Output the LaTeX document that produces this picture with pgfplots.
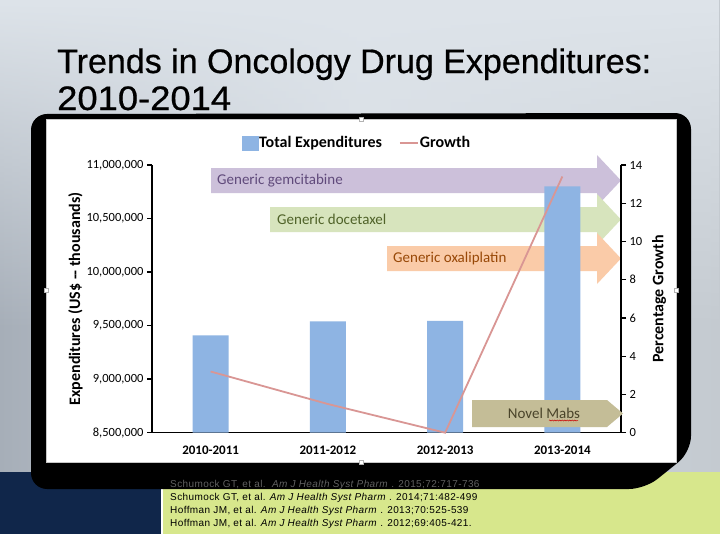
\documentclass[border=0pt]{standalone}
\usepackage{pgfplots}
\pgfplotsset{compat=1.18}
\usepackage{fontspec}
\setmainfont{Liberation Sans}
\newfontfamily\calibri{Carlito}
\newfontfamily\titlefont[FakeBold=0.6]{Liberation Sans}
\newfontfamily\reffont[LetterSpace=4]{Liberation Sans}
\usetikzlibrary{decorations.pathmorphing,fadings}

\definecolor{barblue}{RGB}{142,180,227}
\definecolor{growthline}{RGB}{217,150,148}
\definecolor{gemfill}{RGB}{204,192,218}
\definecolor{gemtext}{RGB}{96,74,123}
\definecolor{docfill}{RGB}{215,228,189}
\definecolor{doctext}{RGB}{79,98,40}
\definecolor{oxafill}{RGB}{250,203,168}
\definecolor{oxatext}{RGB}{152,72,7}
\definecolor{mabfill}{RGB}{196,189,151}
\definecolor{mabtext}{RGB}{74,68,42}
\definecolor{navyband}{RGB}{16,38,74}
\definecolor{limeband}{RGB}{215,231,140}
\definecolor{slideL}{RGB}{166,174,184}
\definecolor{slideM}{RGB}{214,220,227}
\definecolor{slideR}{RGB}{196,202,208}
\definecolor{slideTop}{RGB}{222,228,234}

\pgfplotsset{
  chartbase/.style={
    at={(152bp,-432.7bp)}, anchor=south west,
    width=469bp, height=267.7bp, scale only axis,
    xmin=-0.5, xmax=3.5,
    axis line style={line width=1.4bp, black, -},
    tick align=outside, major tick length=5bp,
    every tick/.style={line width=1.4bp, black},
    /pgf/number format/assume math mode=true,
    tick label style={font=\calibri\fontsize{12.5bp}{14bp}\selectfont},
  }
}

\begin{document}
\begin{tikzpicture}
\useasboundingbox (0,0) rectangle (720bp,-540bp);

\begin{scope}[x=1bp,y=-1bp]
  % slide background and footer bands
  \shade[left color=slideL, right color=slideR, middle color=slideM] (0,0) rectangle (720,472);
  \fill[slideTop, path fading=south] (0,0) rectangle (720,330);
  \fill[white] (0,472) rectangle (720,540);
  \fill[navyband] (0,472) rectangle (161,534);
  \fill[limeband] (163,472) rectangle (720,534);

  % title
  \node[anchor=base west, inner sep=0] at (57,73)
    {\titlefont\fontsize{34bp}{40bp}\selectfont Trends in Oncology Drug Expenditures:};
  \node[anchor=base west, inner sep=0] at (57,110)
    {\scalebox{1.07}[1]{\titlefont\fontsize{34bp}{40bp}\selectfont 2010-2014}};

  % black frame and white chart panel
  \fill[black, rounded corners=16bp] (31,114) -- (691,113) -- (691,452) -- (645,489) -- (31,489) -- cycle;
  \fill[white] (46,119) rectangle (676,462);
  \draw[black!22, line width=0.8bp] (46,119) rectangle (676,462);
  \foreach \hx/\hy in {361/119, 361/462, 46/290, 676/290}
    \draw[black!30, fill=white, line width=0.5bp] (\hx-2,\hy-2) rectangle (\hx+2,\hy+2);

  % generic-entry arrows behind the bars
  \fill[gemfill] (211,168) -- (597,168) -- (597,155) -- (621,180.5) -- (597,206) -- (597,193) -- (211,193) -- cycle;
  \node[anchor=west, inner sep=0, text=gemtext, font=\calibri\fontsize{15bp}{17bp}\selectfont] at (217,180.5) {Generic gemcitabine};
  \fill[docfill] (270,207) -- (597,207) -- (597,194) -- (621,219.5) -- (597,245) -- (597,232) -- (270,232) -- cycle;
  \node[anchor=west, inner sep=0, text=doctext, font=\calibri\fontsize{15bp}{17bp}\selectfont] at (277,219.5) {Generic docetaxel};
  \fill[oxafill] (387,246) -- (597,246) -- (597,233) -- (621,258.5) -- (597,284) -- (597,271) -- (387,271) -- cycle;
  \node[anchor=west, inner sep=0, text=oxatext, font=\calibri\fontsize{15bp}{17bp}\selectfont] at (393,258.5) {Generic oxaliplatin};
\end{scope}

% expenditures (left axis)
\begin{axis}[chartbase,
  ymin=8500000, ymax=11000000,
  axis y line*=left, axis x line*=bottom,
  xtick={0,1,2,3},
  xticklabels={2010-2011,2011-2012,2012-2013,2013-2014},
  xticklabel style={font=\calibri\bfseries\fontsize{13bp}{15bp}\selectfont, yshift=-5bp},
  x tick style={draw=none},
  extra x ticks={0.5,1.5,2.5},
  extra x tick labels={},
  extra x tick style={tick style={draw=black, line width=1.4bp}},
  ytick={8500000,9000000,9500000,10000000,10500000,11000000},
  scaled y ticks=false,
  yticklabel style={/pgf/number format/.cd, fixed, 1000 sep={,}},
  ylabel={Expenditures (US\$ -- thousands)},
  ylabel style={font=\calibri\bfseries\fontsize{16bp}{18bp}\selectfont, yshift=-3bp},
]
\addplot[ybar, bar width=36bp, fill=barblue, draw=none]
  coordinates {(0,9410000) (1,9540000) (2,9545000) (3,10800000)};
\end{axis}

% percentage growth (right axis)
\begin{axis}[chartbase,
  ymin=0, ymax=14,
  axis y line*=right, axis x line=none,
  ytick={0,2,4,6,8,10,12,14},
  ylabel={Percentage Growth},
  ylabel near ticks,
  ylabel style={font=\calibri\bfseries\fontsize{16bp}{18bp}\selectfont, yshift=-3bp},
  clip=false,
  legend style={at={(axis description cs:0.436,1.082)}, anchor=center,
    draw=none, fill=none, legend columns=-1,
    font=\calibri\bfseries\fontsize{16bp}{18bp}\selectfont,
    nodes={inner sep=1bp},
    /tikz/every even column/.append style={column sep=16bp}},
]
\addlegendimage{legend image code/.code={\fill[barblue] (0bp,-7bp) rectangle (16bp,7bp);}}
\addlegendentry{Total Expenditures}
\addplot[growthline, line width=1.8bp,
  legend image code/.code={\draw[growthline, line width=1.8bp] (0bp,0bp) -- (18bp,0bp);}]
  coordinates {(0,3.2) (1,1.5) (2,0) (3,13.4)};
\addlegendentry{Growth}
\end{axis}

\begin{scope}[x=1bp,y=-1bp]
  % novel monoclonal antibodies arrow, above the bars
  \fill[mabfill] (472,400) -- (607,400) -- (623,413.5) -- (607,427) -- (472,427) -- cycle;
  \node[inner sep=0, text=mabtext, font=\calibri\fontsize{15bp}{17bp}\selectfont] (mab) at (544,413) {Novel Mabs};
  \draw[red!80!black, line width=0.5bp, decorate, decoration={snake, amplitude=0.6bp, segment length=2.5bp}]
    (549,420.5) -- (578,420.5);

  % references
  \begin{scope}[every node/.style={anchor=base west, inner sep=0, font=\reffont\fontsize{10bp}{12bp}\selectfont}]
    \node[text=black!62] at (170,487.5) {Schumock GT, et al.\ \ \textit{Am J Health Syst Pharm} . 2015;72:717-736};
    \node at (170,500.5) {Schumock GT, et al. \textit{Am J Health Syst Pharm} . 2014;71:482-499};
    \node at (170,513.5) {Hoffman JM, et al. \textit{Am J Health Syst Pharm} . 2013;70:525-539};
    \node at (170,526.5) {Hoffman JM, et al. \textit{Am J Health Syst Pharm} . 2012;69:405-421.};
  \end{scope}
\end{scope}
\end{tikzpicture}
\end{document}
